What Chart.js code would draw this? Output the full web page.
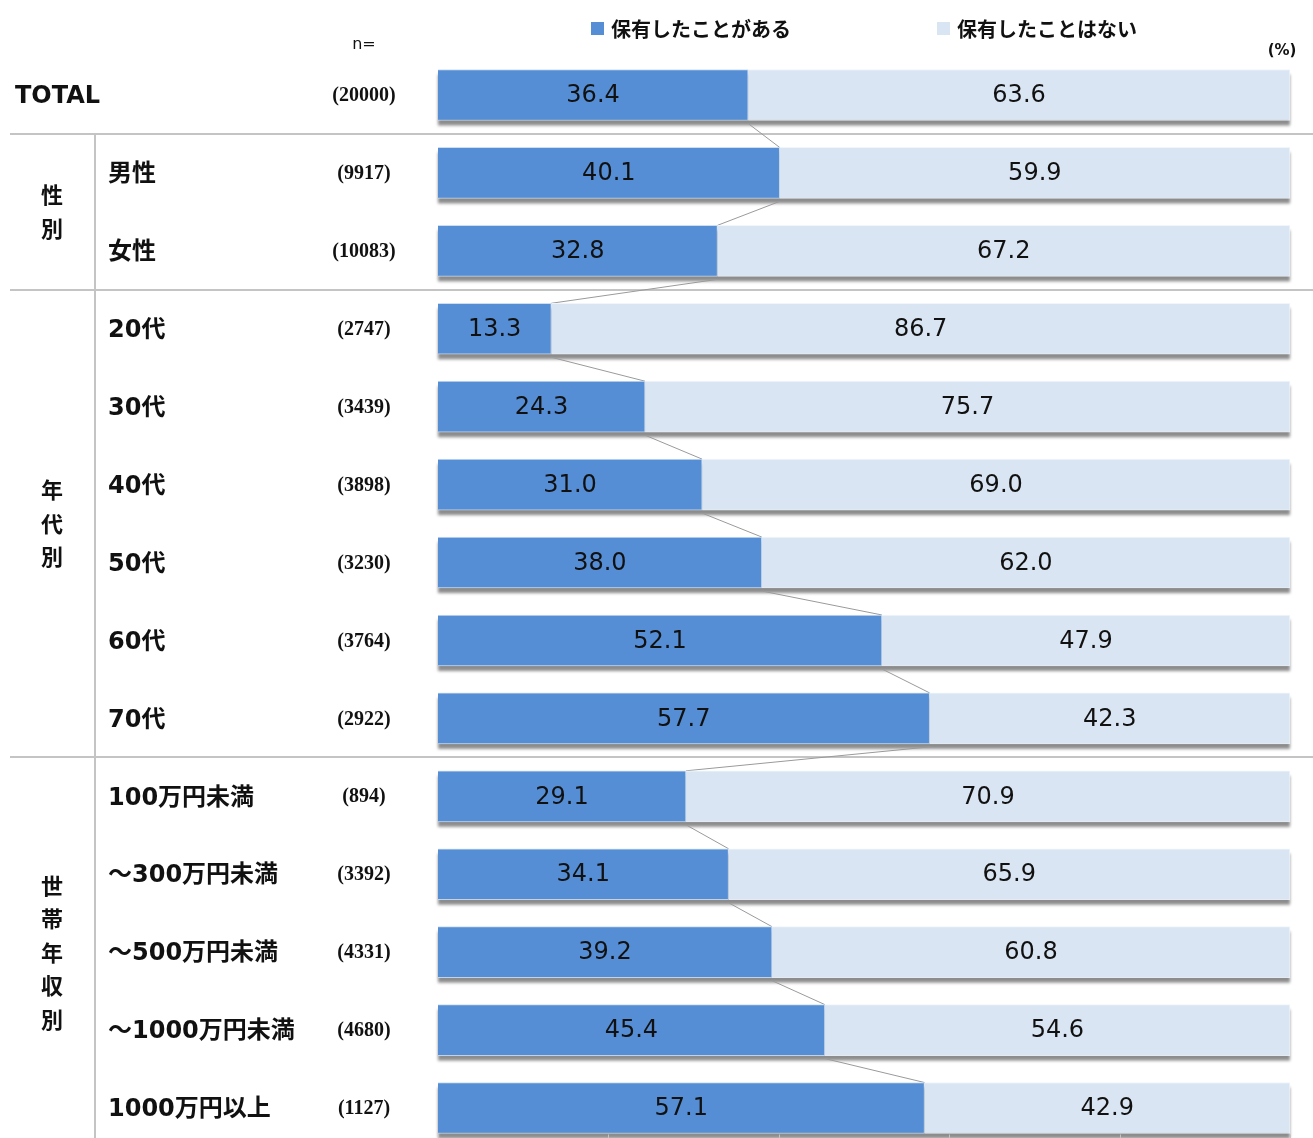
<!DOCTYPE html>
<html lang="ja">
<head>
    <meta charset="UTF-8">
    <title>保有経験</title>
    <script src="https://cdn.jsdelivr.net/npm/chart.js"></script>
    <style>
        html, body { margin: 0; padding: 0; background: #fff; }
        #wrap { width: 1313px; height: 1138px; }
    </style>
</head>
<body>
    <div id="wrap"><canvas id="chart" width="1313" height="1138"></canvas></div>

    <script>
        // data
        const categories = ['TOTAL', '男性', '女性', '20代', '30代', '40代', '50代', '60代', '70代',
            '100万円未満', '～300万円未満', '～500万円未満', '～1000万円未満', '1000万円以上'];
        const sampleSizes = ['(20000)', '(9917)', '(10083)', '(2747)', '(3439)', '(3898)', '(3230)',
            '(3764)', '(2922)', '(894)', '(3392)', '(4331)', '(4680)', '(1127)'];
        const heldValues = [36.4, 40.1, 32.8, 13.3, 24.3, 31.0, 38.0, 52.1, 57.7, 29.1, 34.1, 39.2, 45.4, 57.1];
        const neverValues = [63.6, 59.9, 67.2, 86.7, 75.7, 69.0, 62.0, 47.9, 42.3, 70.9, 65.9, 60.8, 54.6, 42.9];
        const seriesNames = ['保有したことがある', '保有したことはない'];
        const groupNames = ['性別', '年代別', '世帯年収別'];
        const groupStart = [1, 3, 9];
        const groupEnd = [2, 8, 13];
        const xTicks = [0, 20, 40, 60, 80, 100];

        const blue = '#558ed5';
        const light = '#dae5f3';
        const labelFont = "bold 24px 'DejaVu Sans', 'Noto Sans CJK JP', sans-serif";

        const tablePlugin = {
            id: 'table',
            beforeDatasetsDraw(chart) {
                const ctx = chart.ctx;
                const y = chart.scales.y;
                const x = chart.scales.x;
                const W = chart.width, H = chart.height;
                ctx.save();
                // group separators
                ctx.strokeStyle = '#c4c4c4';
                ctx.lineWidth = 2;
                const seps = [0].concat(groupEnd.slice(0, 2));
                seps.forEach(i => {
                    const yy = Math.round((y.getPixelForValue(i) + y.getPixelForValue(i + 1)) / 2);
                    ctx.beginPath();
                    ctx.moveTo(10, yy);
                    ctx.lineTo(W, yy);
                    ctx.stroke();
                });
                const top = (y.getPixelForValue(0) + y.getPixelForValue(1)) / 2;
                ctx.beginPath();
                ctx.moveTo(95, top);
                ctx.lineTo(95, H);
                ctx.stroke();

                const m0 = chart.getDatasetMeta(0).data;

                // soft shadow under each full bar
                ctx.save();
                ctx.filter = 'blur(1.5px)';
                ctx.fillStyle = 'rgba(0,0,0,0.45)';
                m0.forEach(bar => {
                    const x0 = x.getPixelForValue(0), x1 = x.getPixelForValue(100);
                    ctx.fillRect(x0, bar.y - bar.height / 2 + 5, x1 - x0, bar.height);
                });
                ctx.restore();

                // connector lines between bars
                ctx.strokeStyle = '#9a9a9a';
                ctx.lineWidth = 1;
                for (let i = 0; i < m0.length - 1; i++) {
                    const a = m0[i], b = m0[i + 1];
                    ctx.beginPath();
                    ctx.moveTo(a.x, a.y + a.height / 2 + 3);
                    ctx.lineTo(b.x, b.y - b.height / 2);
                    ctx.stroke();
                }

                // x tick marks at the bottom
                const last = m0[m0.length - 1];
                ctx.strokeStyle = '#c4c4c4';
                xTicks.forEach(v => {
                    const xx = Math.round(x.getPixelForValue(v)) + 0.5;
                    ctx.beginPath();
                    ctx.moveTo(xx, last.y + last.height / 2 + 1);
                    ctx.lineTo(xx, H);
                    ctx.stroke();
                });
                ctx.restore();
            },
            afterDatasetsDraw(chart) {
                const ctx = chart.ctx;
                const y = chart.scales.y;
                ctx.save();
                ctx.textBaseline = 'middle';

                // value labels
                ctx.fillStyle = '#111';
                ctx.font = "24px 'DejaVu Sans', sans-serif";
                ctx.textAlign = 'center';
                chart.data.datasets.forEach((ds, d) => {
                    chart.getDatasetMeta(d).data.forEach((bar, i) => {
                        const v = ds.data[i];
                        const x0 = Math.min(bar.x, bar.base), x1 = Math.max(bar.x, bar.base);
                        ctx.fillText(v.toFixed(1), (x0 + x1) / 2, bar.y + 1);
                    });
                });

                // category and n labels
                categories.forEach((c, i) => {
                    const yy = y.getPixelForValue(i) + 2;
                    ctx.font = labelFont;
                    ctx.textAlign = 'left';
                    ctx.fillStyle = '#111';
                    ctx.fillText(c, i === 0 ? 15 : 108, yy);
                    ctx.font = "bold 20px 'Liberation Serif', serif";
                    ctx.textAlign = 'center';
                    ctx.fillText(sampleSizes[i], 364, yy - 1);
                });

                // vertical group labels
                ctx.font = "bold 22px 'Noto Sans CJK JP', sans-serif";
                ctx.textAlign = 'center';
                groupNames.forEach((g, k) => {
                    const mid = (y.getPixelForValue(groupStart[k]) + y.getPixelForValue(groupEnd[k])) / 2;
                    const chars = Array.from(g);
                    const step = 33.5;
                    chars.forEach((ch, j) => {
                        ctx.fillText(ch, 52, mid + (j - (chars.length - 1) / 2) * step);
                    });
                });

                // header texts
                ctx.font = "16px 'DejaVu Sans', sans-serif";
                ctx.fillText('n=', 364, 45);
                ctx.font = "bold 15px 'DejaVu Sans', sans-serif";
                ctx.fillText('(%)', 1282, 51);

                // legend
                ctx.textAlign = 'left';
                ctx.font = "bold 20px 'Noto Sans CJK JP', sans-serif";
                const legendX = [591, 937];
                chart.data.datasets.forEach((ds, d) => {
                    ctx.fillStyle = ds.backgroundColor;
                    ctx.fillRect(legendX[d], 22, 13, 13);
                    ctx.fillStyle = '#111';
                    ctx.fillText(seriesNames[d], legendX[d] + 20, 29);
                });
                ctx.restore();
            }
        };

        new Chart(document.getElementById('chart'), {
            type: 'bar',
            data: {
                labels: categories,
                datasets: [
                    { label: seriesNames[0], data: heldValues, backgroundColor: blue, clip: false,
                      borderColor: 'rgba(200,218,240,0.9)', borderWidth: 1, barThickness: 51 },
                    { label: seriesNames[1], data: neverValues, backgroundColor: light, clip: false,
                      borderColor: 'rgba(240,245,252,0.9)', borderWidth: 1, barThickness: 51 }
                ]
            },
            options: {
                indexAxis: 'y',
                responsive: false,
                animation: false,
                layout: { padding: { left: 438, right: 23, top: 95, bottom: 30 } },
                scales: {
                    x: { stacked: true, min: 0, max: 100, display: false },
                    y: { stacked: true, display: false, offset: false }
                },
                plugins: {
                    legend: { display: false },
                    tooltip: { enabled: false }
                }
            },
            plugins: [tablePlugin]
        });
    </script>
</body>
</html>
